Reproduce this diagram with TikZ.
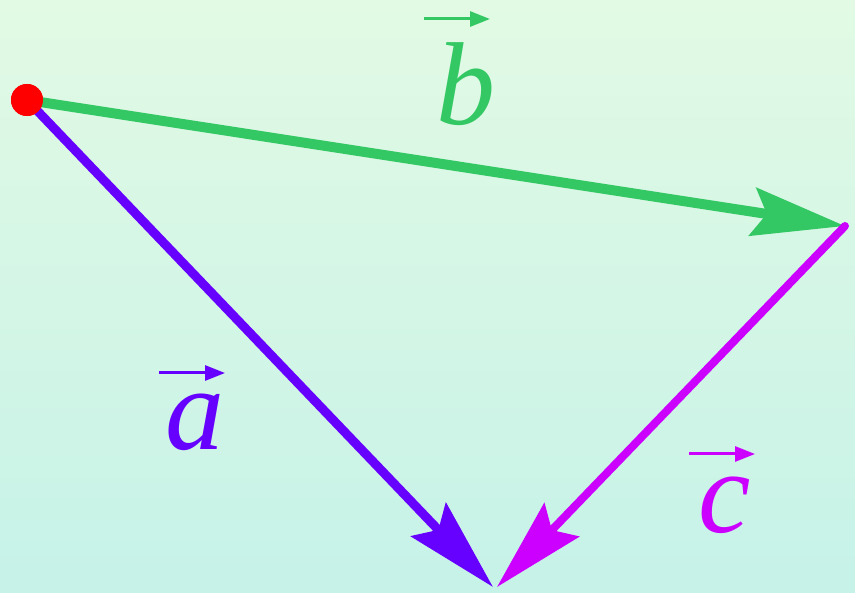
\documentclass[tikz,border=0pt]{standalone}
\usepackage{fontspec}
\setmainfont{Liberation Serif}
\usetikzlibrary{arrows.meta}
\definecolor{bgtop}{RGB}{226,250,228}
\definecolor{bgbot}{RGB}{198,242,232}
\definecolor{vgreen}{RGB}{52,200,100}
\definecolor{vpurple}{RGB}{102,0,255}
\definecolor{vmagenta}{RGB}{204,0,255}
\tikzset{
  vec/.style={-{Stealth[length=93pt,width=48pt,inset=14pt]}},
  lbl/.style={font=\fontsize{118}{118}\selectfont\itshape, inner sep=0pt, anchor=base},
  lblarrow/.style={line width=3pt,-{Triangle[length=20pt,width=15pt]}},
}
\begin{document}
\begin{tikzpicture}[x=1pt,y=-1pt]
\useasboundingbox (0,0) rectangle (855,593);
\shade[top color=bgtop,bottom color=bgbot] (0,0) rectangle (855,593);
\coordinate (B) at (845,226);
\coordinate (A1) at (493,587);
\coordinate (A2) at (497,587);
\node[circle,fill=red,inner sep=0pt,minimum size=32pt] (O) at (27,100) {};
\draw[vec,vpurple,line width=9pt] (O.center) -- (A1);
\draw[vec,vgreen,line width=10pt] (O.center) -- (B);
\draw[vec,vmagenta,line width=8pt,line cap=round] (B) -- (A2);
\node[circle,fill=red,inner sep=0pt,minimum size=32pt] at (O) {};
\node[lbl,text=vgreen] (lb) at (466,125) {b};
\node[lbl,text=vpurple] (la) at (195,450) {a};
\node[lbl,text=vmagenta] (lc) at (725,533) {c};
\draw[lblarrow,vgreen] (424,19) -- (490,19);
\draw[lblarrow,vpurple] (159,373) -- (225,373);
\draw[lblarrow,vmagenta] (689,454) -- (755,454);
\end{tikzpicture}
\end{document}
